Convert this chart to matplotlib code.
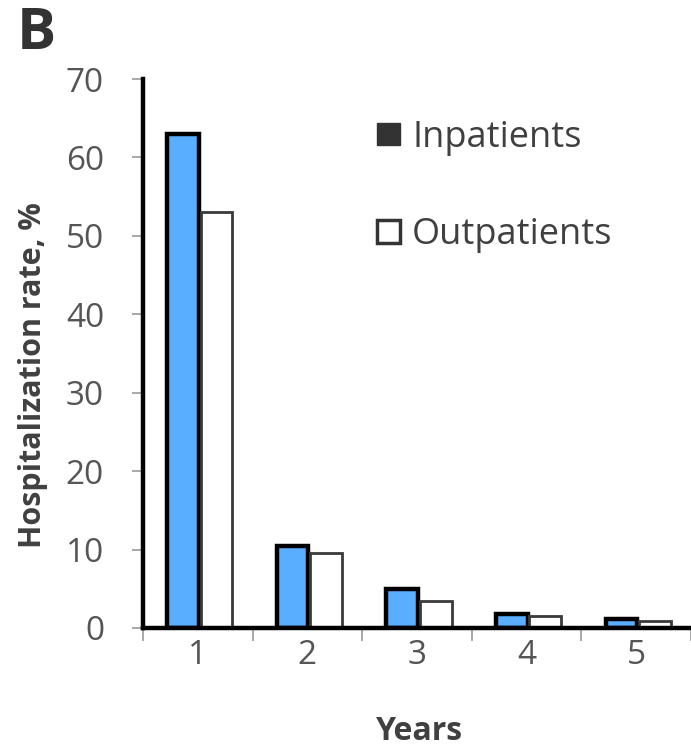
import matplotlib
matplotlib.use("Agg")
import matplotlib.pyplot as plt
from matplotlib.patches import Patch
import numpy as np

plt.rcParams['font.family'] = ['Open Sans', 'DejaVu Sans']

years = ["1", "2", "3", "4", "5"]
inpatients = [63.0, 10.5, 5.0, 1.8, 1.2]
outpatients = [53.0, 9.5, 3.5, 1.5, 0.9]
y_ticks = [0, 10, 20, 30, 40, 50, 60, 70]

text_gray = "#404040"
tick_gray = "#9a9a9a"
blue = "#5aaeff"

fig = plt.figure(figsize=(6.91, 7.51), dpi=100)
W, H = 691, 751
ax_left, ax_right = 143, 691
ax_bottom, ax_top = 628, 79
ax = fig.add_axes([ax_left / W, 1 - ax_bottom / H,
                   (ax_right - ax_left) / W, (ax_bottom - ax_top) / H])

x = np.arange(len(years))
w = 0.29
ax.bar(x - w / 2 + 0.01, inpatients, width=w, color=blue, edgecolor="black",
       linewidth=3.2, zorder=3)
ax.bar(x + w / 2 + 0.025, outpatients, width=w, color="white", edgecolor="#3a3a3a",
       linewidth=2.0, zorder=3)

ax.set_xlim(-0.5, len(years) - 0.5)
ax.set_ylim(0, 70)
ax.set_yticks(y_ticks)
ax.set_yticklabels([str(v) for v in y_ticks], fontsize=24, color="#555555")

# category boundaries carry the x tick marks; labels sit at the centres
ax.set_xticks(np.arange(len(years) + 1) - 0.5)
ax.set_xticklabels([])
ax.set_xticks(x, minor=True)
ax.set_xticklabels(years, minor=True, fontsize=24, color="#555555")
ax.tick_params(axis="x", which="major", length=9, width=1.2, color=tick_gray,
               direction="out")
ax.tick_params(axis="x", which="minor", length=0, pad=8)
ax.tick_params(axis="y", length=8, width=1.2, color=tick_gray, pad=20)

for s in ["top", "right"]:
    ax.spines[s].set_visible(False)
for s in ["left", "bottom"]:
    ax.spines[s].set_linewidth(3.2)
    ax.spines[s].set_color("black")
    ax.spines[s].set_zorder(4)
ax.spines["left"].set_bounds(0, 70)

ax.set_xlabel("Years", fontsize=23, fontweight="bold", color=text_gray)
ax.set_ylabel("Hospitalization rate, %", fontsize=22, fontweight="bold",
              color=text_gray)
ax.xaxis.set_label_coords(0.505, -0.158)
ax.yaxis.set_label_coords(-0.173, 0.46)

handles = [Patch(facecolor="#333333", edgecolor="#333333", linewidth=1.0),
           Patch(facecolor="white", edgecolor="#333333", linewidth=2.5)]
leg = ax.legend(handles, ["Inpatients", "Outpatients"], loc="upper left",
                bbox_to_anchor=(0.368, 0.985), frameon=False, fontsize=26,
                handlelength=0.62, handleheight=0.58, handletextpad=0.35,
                labelspacing=1.7, labelcolor=text_gray)

fig.text(17 / W, 1 - 5 / H, "B", fontsize=42, fontweight="bold", color="#333333",
         va="top", ha="left")

fig.savefig("out.png", dpi=100, facecolor="white")
